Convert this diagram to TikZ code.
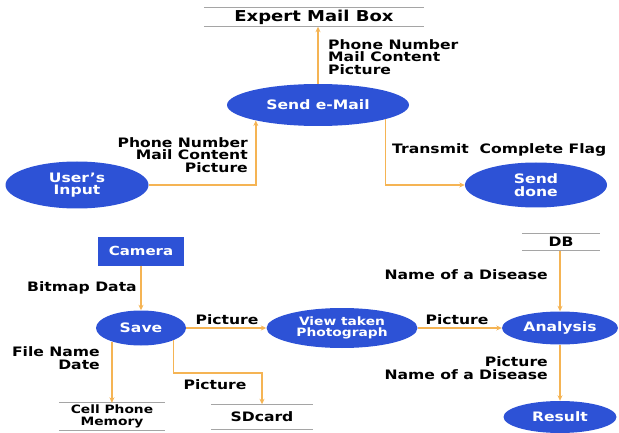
\documentclass[tikz,border=0pt]{standalone}
\usepackage{fontspec}
\setmainfont{DejaVu Sans}[FakeStretch=1.2]
\usetikzlibrary{shapes.geometric,arrows.meta}
\definecolor{procblue}{RGB}{45,82,214}
\definecolor{flowline}{RGB}{245,180,84}
\definecolor{storeline}{RGB}{165,165,165}
\tikzset{
  proc/.style={ellipse, fill=procblue, text=white, inner sep=0pt,
    font=\bfseries\fontsize{13}{12.5}\selectfont, align=center},
  sink/.style={rectangle, fill=procblue, text=white, inner sep=0pt,
    font=\bfseries\fontsize{12.5}{12.5}\selectfont},
  store/.style={rectangle, inner sep=0pt, align=center,
    font=\bfseries\fontsize{13}{11}\selectfont},
  storeedge/.style={draw=storeline, line width=0.8pt},
  flow/.style={draw=flowline, line width=1.4pt,
    -{Stealth[length=5.5pt,width=5pt]}},
  lbl/.style={inner sep=0pt, font=\bfseries\fontsize{13}{12.5}\selectfont}
}
\begin{document}
\begin{tikzpicture}[x=1pt,y=-1pt]
\useasboundingbox (0,0) rectangle (619,433);

% processes
\node[proc, minimum width=182pt, minimum height=42pt] (email) at (318,105) {Send e-Mail};
\node[proc, minimum width=143pt, minimum height=47pt] (user) at (77,185) {User's\\Input};
\node[proc, minimum width=142pt, minimum height=45pt] (done) at (536,185) {Send\\done};
\node[sink, minimum width=86pt, minimum height=29pt] (camera) at (141,251) {Camera};
\node[proc, minimum width=90pt, minimum height=35pt] (save) at (141,328) {Save};
\node[proc, minimum width=151pt, minimum height=40pt,
      font=\bfseries\fontsize{11.5}{11.5}\selectfont] (view) at (342,328) {View taken\\Photograph};
\node[proc, minimum width=116pt, minimum height=33pt] (analysis) at (560,328) {Analysis};
\node[proc, minimum width=113pt, minimum height=32pt] (result) at (560,417) {Result};

% data stores
\node[store, minimum width=220pt, minimum height=19pt,
      font=\bfseries\fontsize{15}{15}\selectfont] (expert) at (314,17) {Expert Mail Box};
\node[store, minimum width=78pt, minimum height=17pt] (db) at (561,242) {DB};
\node[store, minimum width=106pt, minimum height=27pt,
      font=\bfseries\fontsize{11.5}{11.5}\selectfont] (cell) at (112,416.5) {Cell Phone\\Memory};
\node[store, minimum width=102pt, minimum height=25pt] (sd) at (262,417) {SDcard};
\foreach \s in {expert,db,cell,sd}{
  \draw[storeedge] (\s.north west) -- (\s.north east);
  \draw[storeedge] (\s.south west) -- (\s.south east);
}

% data flows
\draw[flow] (email.north -| 318,0) -- (318,0 |- expert.south);
\draw[flow] (user.east) -| (email.-166.4);
\draw[flow] (email.-12.7) |- (done.west);
\draw[flow] (camera.south) -- (save.north);
\draw[flow] (save.east) -- (view.west);
\draw[flow] (view.east) -- (analysis.west);
\draw[flow] (db.south -| analysis.north) -- (analysis.north);
\draw[flow] (analysis.south) -- (result.north);
\draw[flow] (save.-155) -- (save.-155 |- cell.north);
\coordinate (sdbend) at (0,373);
\draw[flow] (save.-21) -- (save.-21 |- sdbend) -| (sd.north);

% flow labels
\node[lbl, align=left, anchor=west] (lmailout) at (328,57) {Phone Number\\Mail Content\\Picture};
\node[lbl, align=right, anchor=east] (lmailin) at (248,155) {Phone Number\\Mail Content\\Picture};
\node[lbl, anchor=west] (lflag) at (392,150) {Transmit\ \ Complete Flag};
\node[lbl, anchor=west] (lbitmap) at (27,288) {Bitmap Data};
\node[lbl] (lpic1) at (227,320) {Picture};
\node[lbl, align=right, anchor=east] (lfile) at (100,358) {File Name\\Date};
\node[lbl] (lpic2) at (215,385) {Picture};
\node[lbl] (lpic3) at (457,320) {Picture};
\node[lbl, anchor=east] (ldis) at (548,275) {Name of a Disease};
\node[lbl, align=right, anchor=east] (lres) at (548,368) {Picture\\Name of a Disease};
\end{tikzpicture}
\end{document}
